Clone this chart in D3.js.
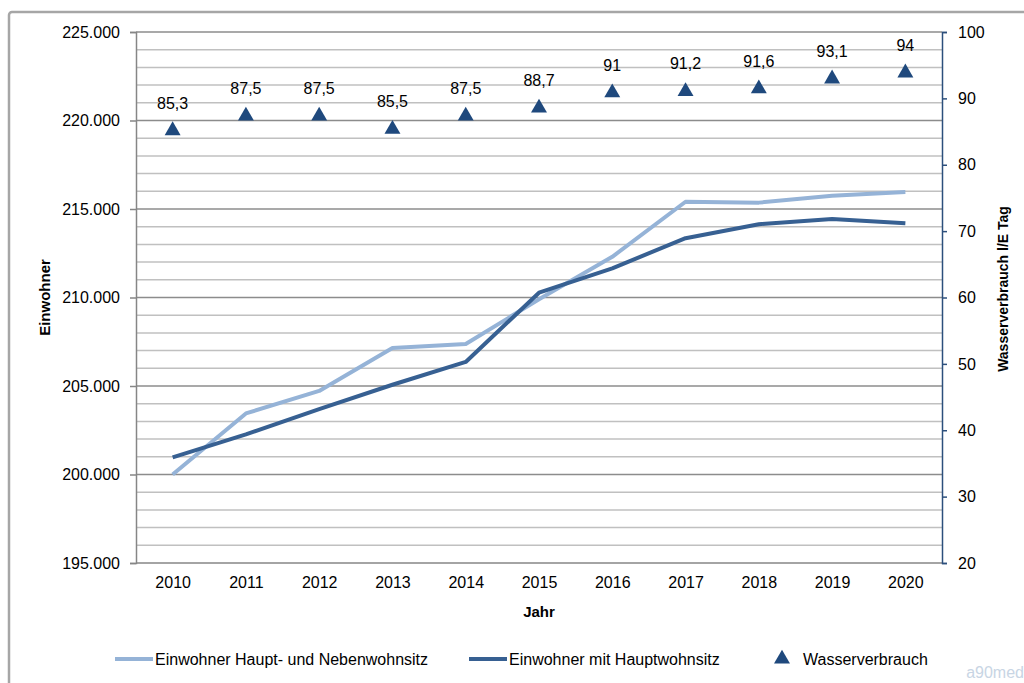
<!DOCTYPE html>
<html><head><meta charset="utf-8">
<script src="https://cdn.jsdelivr.net/npm/d3@7"></script>
<style>body{margin:0;background:#fff;}svg{display:block;font-family:"Liberation Sans",Arial,sans-serif;}</style>
</head><body>
<svg id="c" width="1024" height="683"></svg>
<script>
const years = ["2010","2011","2012","2013","2014","2015","2016","2017","2018","2019","2020"];
const einwohnerHauptNeben = [200000,203450,204720,207150,207370,209900,212300,215410,215360,215750,215960];
const einwohnerHaupt = [200970,202270,203690,205070,206360,210270,211650,213350,214140,214440,214190];
const wasserverbrauch = [85.3,87.5,87.5,85.5,87.5,88.7,91,91.2,91.6,93.1,94];
const wasserLabels = ["85,3","87,5","87,5","85,5","87,5","88,7","91","91,2","91,6","93,1","94"];
const leftTicks = [195000,200000,205000,210000,215000,220000,225000];
const rightTicks = [20,30,40,50,60,70,80,90,100];
const legendItems = ["Einwohner Haupt- und Nebenwohnsitz","Einwohner mit Hauptwohnsitz","Wasserverbrauch"];

const svg = d3.select("#c");
const L = 136, R = 942, T = 32, B = 563;
const fmt = d3.format(",.0f");
const deFmt = v => fmt(v).replace(/,/g, ".");

// outer frame
svg.append("rect").attr("x",9).attr("y",12).attr("width",1040).attr("height",700)
  .attr("rx",3).attr("fill","none").attr("stroke","#a6a6a6").attr("stroke-width",2.5);

const x = d3.scalePoint().domain(years).range([L,R]).padding(0.5);
const yL = d3.scaleLinear().domain([195000,225000]).range([B,T]);
const yR = d3.scaleLinear().domain([20,100]).range([B,T]);

// gridlines
const minor = d3.range(196000,225001,1000);
svg.append("g").selectAll("line").data(minor).join("line")
  .attr("x1",L).attr("x2",R).attr("y1",d=>yL(d)).attr("y2",d=>yL(d))
  .attr("stroke",d=> d%5000===0 ? "#8c8c8c" : "#c0c0c0").attr("stroke-width",1.5);

// left axis
const gL = svg.append("g").attr("transform",`translate(${L},0)`)
  .call(d3.axisLeft(yL).tickValues(leftTicks).tickFormat(deFmt).tickSize(6).tickPadding(10));
gL.select(".domain").attr("stroke","#868686").attr("stroke-width",1.5);
gL.selectAll(".tick line").attr("stroke","#868686").attr("stroke-width",1.5);
gL.selectAll(".tick text").attr("font-size",16).attr("fill","#000").attr("font-family","Liberation Sans, Arial, sans-serif");

// bottom axis
const gB = svg.append("g").attr("transform",`translate(0,${B})`)
  .call(d3.axisBottom(x).tickSize(0).tickPadding(14));
gB.select(".domain").attr("stroke","#868686").attr("stroke-width",1.5).attr("d",`M${L},0H${R}`);
gB.selectAll(".tick text").attr("font-size",16).attr("fill","#000").attr("font-family","Liberation Sans, Arial, sans-serif");

// right axis
const gR = svg.append("g").attr("transform",`translate(${R},0)`)
  .call(d3.axisRight(yR).tickValues(rightTicks).tickSize(5).tickPadding(11));
gR.select(".domain").attr("stroke","#2c4f7c").attr("stroke-width",1.5);
gR.selectAll(".tick line").attr("stroke","#2c4f7c").attr("stroke-width",1.5);
gR.selectAll(".tick text").attr("font-size",16).attr("fill","#000").attr("font-family","Liberation Sans, Arial, sans-serif");

// lines
const lineL = d3.line().x((d,i)=>x(years[i])).y(d=>yL(d));
svg.append("path").datum(einwohnerHauptNeben).attr("d",lineL)
  .attr("fill","none").attr("stroke","#95b3d7").attr("stroke-width",4).attr("stroke-linejoin","round");
svg.append("path").datum(einwohnerHaupt).attr("d",lineL)
  .attr("fill","none").attr("stroke","#376092").attr("stroke-width",4).attr("stroke-linejoin","round");

// triangles
const tri = d3.symbol().type(d3.symbolTriangle).size(110);
svg.append("g").selectAll("path").data(wasserverbrauch).join("path")
  .attr("d",tri).attr("transform",(d,i)=>`translate(${x(years[i])},${yR(d)+1})`)
  .attr("fill","#1f497d");
svg.append("g").selectAll("text").data(wasserverbrauch).join("text")
  .attr("x",(d,i)=>x(years[i])).attr("y",d=>yR(d)-21)
  .attr("text-anchor","middle").attr("font-size",16).attr("fill","#000")
  .text((d,i)=>wasserLabels[i]);

// axis titles
svg.append("text").attr("transform",`translate(50,${(T+B)/2}) rotate(-90)`)
  .attr("text-anchor","middle").attr("font-size",15).attr("font-weight","bold").text("Einwohner");
svg.append("text").attr("transform",`translate(1008,289) rotate(-90)`)
  .attr("text-anchor","middle").attr("font-size",14).attr("font-weight","bold").text("Wasserverbrauch l/E Tag");
svg.append("text").attr("x",(L+R)/2).attr("y",617)
  .attr("text-anchor","middle").attr("font-size",15).attr("font-weight","bold").text("Jahr");

// legend
const ly = 659;
const lg = svg.append("g").attr("font-size",16);
lg.append("line").attr("x1",115).attr("x2",153).attr("y1",ly).attr("y2",ly).attr("stroke","#95b3d7").attr("stroke-width",4);
lg.append("text").attr("x",155).attr("y",ly+6).text(legendItems[0]);
lg.append("line").attr("x1",469).attr("x2",507).attr("y1",ly).attr("y2",ly).attr("stroke","#376092").attr("stroke-width",4);
lg.append("text").attr("x",509).attr("y",ly+6).text(legendItems[1]);
lg.append("path").attr("d",tri).attr("transform",`translate(782,${ly})`).attr("fill","#1f497d");
lg.append("text").attr("x",803).attr("y",ly+6).text(legendItems[2]);

// watermark
svg.append("text").attr("x",1024).attr("y",678).attr("text-anchor","end")
  .attr("font-size",16).attr("fill","#c8d5e4").text("a90med");
</script>
</body></html>
